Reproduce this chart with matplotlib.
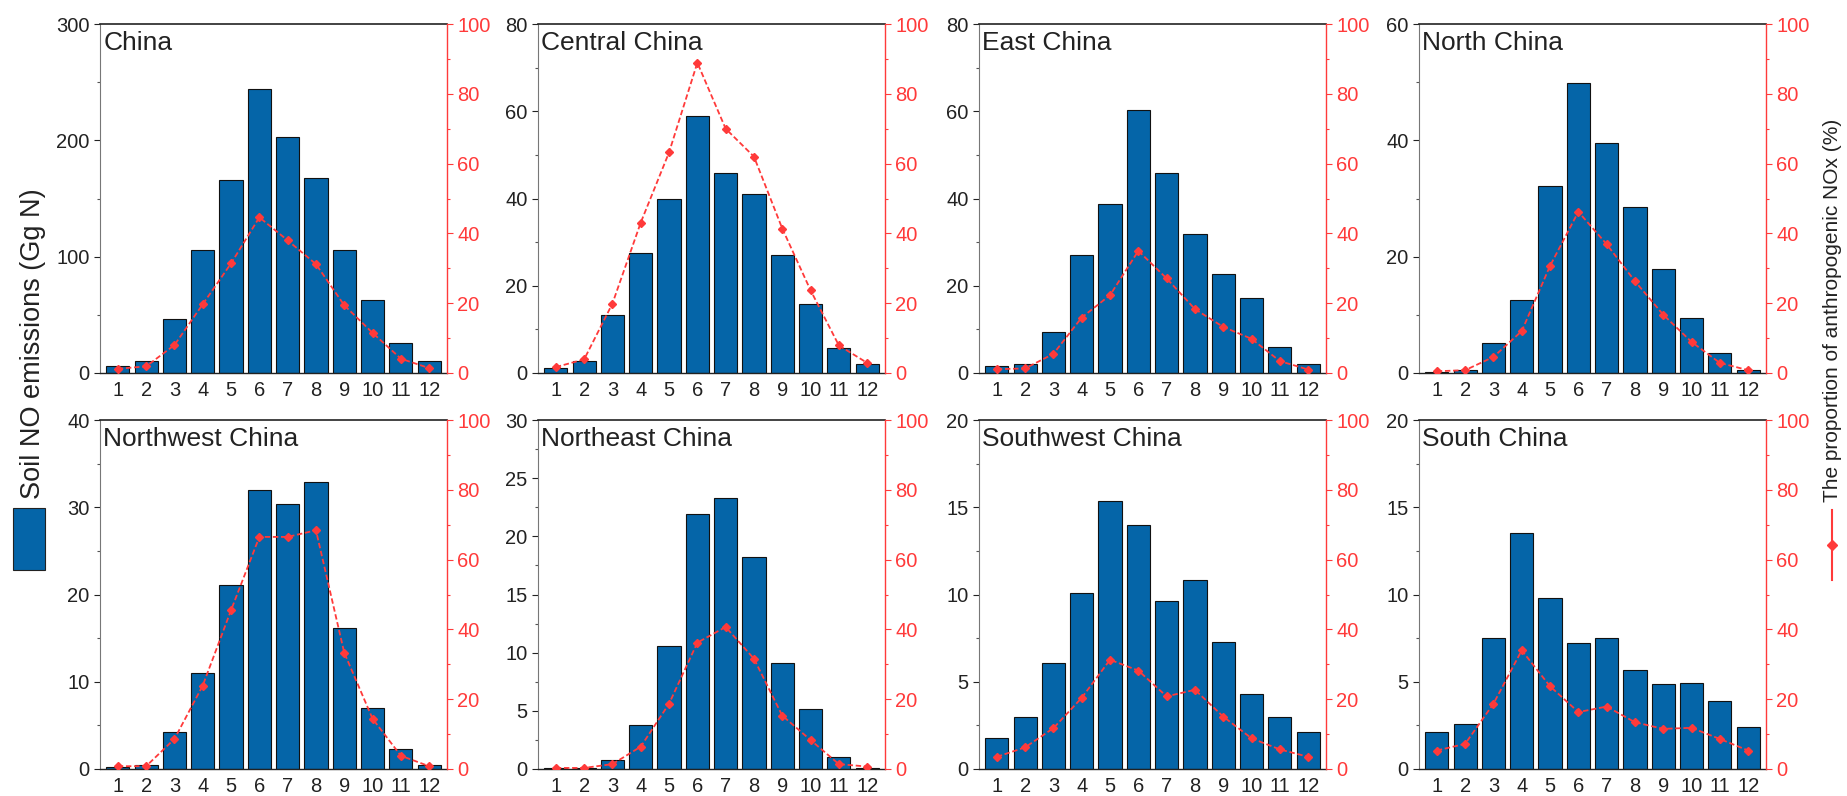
import matplotlib
matplotlib.use("Agg")
import matplotlib.pyplot as plt
from matplotlib.ticker import MultipleLocator
from matplotlib.patches import Rectangle
from matplotlib.lines import Line2D

plt.rcParams['font.family'] = ['Liberation Sans', 'DejaVu Sans']

months = [1, 2, 3, 4, 5, 6, 7, 8, 9, 10, 11, 12]
month_labels = [str(m) for m in months]

regions = ["China", "Central China", "East China", "North China",
           "Northwest China", "Northeast China", "Southwest China", "South China"]

# Soil NO emissions (Gg N)
soil_china = [5.7, 10, 46, 105.5, 166, 244, 202.5, 167.5, 105.5, 63, 26, 10]
soil_central = [1.1, 2.75, 13.2, 27.4, 39.8, 58.9, 45.9, 41.1, 27.0, 15.8, 5.7, 2.1]
soil_east = [1.5, 2.1, 9.4, 27.0, 38.7, 60.3, 45.9, 31.8, 22.6, 17.1, 6.0, 2.1]
soil_north = [0.1, 0.6, 5.2, 12.6, 32.1, 49.9, 39.5, 28.5, 17.9, 9.5, 3.5, 0.5]
soil_northwest = [0.2, 0.5, 4.2, 11.0, 21.1, 32.0, 30.4, 32.9, 16.2, 7.0, 2.3, 0.5]
soil_northeast = [0.05, 0.05, 0.8, 3.8, 10.6, 21.9, 23.3, 18.2, 9.1, 5.2, 1.0, 0.1]
soil_southwest = [1.8, 3.0, 6.1, 10.1, 15.35, 14.0, 9.6, 10.85, 7.3, 4.3, 3.0, 2.1]
soil_south = [2.1, 2.6, 7.5, 13.5, 9.8, 7.2, 7.5, 5.65, 4.85, 4.9, 3.9, 2.4]

# Proportion of anthropogenic NOx (%)
prop_china = [1.2, 1.9, 8.0, 19.7, 31.4, 44.6, 38.0, 31.2, 19.4, 11.5, 4.1, 1.4]
prop_central = [1.7, 3.9, 19.9, 43.1, 63.2, 88.9, 70.0, 62.0, 41.4, 23.7, 7.9, 2.9]
prop_east = [1.1, 1.3, 5.5, 15.9, 22.3, 35.0, 27.1, 18.3, 13.2, 9.8, 3.4, 1.0]
prop_north = [0.5, 0.8, 4.6, 12.0, 30.7, 46.2, 36.9, 26.3, 16.7, 8.9, 2.9, 0.8]
prop_northwest = [0.8, 0.8, 8.6, 23.9, 45.5, 66.5, 66.5, 68.4, 33.3, 14.4, 3.8, 0.8]
prop_northeast = [0.3, 0.3, 1.4, 6.4, 18.7, 36.2, 40.7, 31.6, 15.3, 8.3, 1.4, 0.7]
prop_southwest = [3.5, 6.2, 11.7, 20.4, 31.3, 28.2, 20.8, 22.7, 15.0, 8.8, 5.6, 3.5]
prop_south = [5.3, 7.2, 18.7, 34.0, 23.7, 16.3, 17.9, 13.4, 11.5, 11.8, 8.6, 5.3]

soil_all = [soil_china, soil_central, soil_east, soil_north,
            soil_northwest, soil_northeast, soil_southwest, soil_south]
prop_all = [prop_china, prop_central, prop_east, prop_north,
            prop_northwest, prop_northeast, prop_southwest, prop_south]

left_max = [300, 80, 80, 60, 40, 30, 20, 20]
left_major = [100, 20, 20, 20, 10, 5, 5, 5]

W, H = 1847, 796
fig = plt.figure(figsize=(W / 100, H / 100), dpi=100)

BAR_C = '#0565A8'
RED = '#FF3A3A'
TXT = '#222222'

col_left = [100, 538, 979, 1419]
col_w = 347
row_top = [24, 420]
row_h = 349

for i in range(8):
    r, c = divmod(i, 4)
    l = col_left[c]
    t = row_top[r]
    ax = fig.add_axes([l / W, 1 - (t + row_h) / H, col_w / W, row_h / H])
    ax.bar(months, soil_all[i], width=0.82, color=BAR_C, edgecolor='#111111',
           linewidth=0.8, zorder=2)
    ax.set_xlim(0.37, 12.63)
    ax.set_ylim(0, left_max[i])
    ax.yaxis.set_major_locator(MultipleLocator(left_major[i]))
    ax.yaxis.set_minor_locator(MultipleLocator(left_major[i] / 2))
    ax.set_xticks(months)
    ax.set_xticklabels(month_labels)
    ax.tick_params(axis='x', length=0, labelsize=14.5, pad=6, colors=TXT)
    ax.tick_params(axis='y', which='major', length=4, width=0.8, labelsize=14.5,
                   colors=TXT, direction='out')
    ax.tick_params(axis='y', which='minor', length=2.5, width=0.8, colors='#555555',
                   direction='out')
    ax.spines['left'].set_color('#777777')
    ax.spines['left'].set_linewidth(0.8)
    ax.spines['bottom'].set_color(TXT)
    ax.spines['bottom'].set_linewidth(1.0)
    ax.spines['top'].set_color(TXT)
    ax.spines['top'].set_linewidth(1.2)
    ax.spines['right'].set_visible(False)
    ax.text(0.01, 0.98, regions[i], transform=ax.transAxes, ha='left', va='top',
            fontsize=19, color=TXT, zorder=5)

    ax2 = ax.twinx()
    ax2.plot(months, prop_all[i], color=RED, linestyle=(0, (3, 1.5)), linewidth=1.3,
             marker='D', markersize=4.5, markerfacecolor=RED, markeredgecolor=RED,
             zorder=4)
    ax2.set_ylim(0, 100)
    ax2.yaxis.set_major_locator(MultipleLocator(20))
    ax2.yaxis.set_minor_locator(MultipleLocator(10))
    ax2.tick_params(axis='y', which='major', length=4, width=0.8, labelsize=14.5,
                    colors=RED, direction='out')
    ax2.tick_params(axis='y', which='minor', length=2.5, width=0.8, colors=RED,
                    direction='out')
    ax2.spines['right'].set_color(RED)
    ax2.spines['right'].set_linewidth(1.0)
    for s in ['left', 'top', 'bottom']:
        ax2.spines[s].set_visible(False)

# Left axis label with bar legend symbol
fig.text(33 / W, 1 - 344 / H, 'Soil NO emissions (Gg N)', rotation=90,
         ha='center', va='center', fontsize=19.5, color=TXT)
fig.patches.append(Rectangle((13 / W, 1 - 570 / H), 32 / W, 62 / H,
                             transform=fig.transFigure, facecolor=BAR_C,
                             edgecolor='#222222', linewidth=0.8))

# Right axis label with line legend symbol
fig.text(1832 / W, 1 - 310 / H, 'The proportion of anthropogenic NOx (%)', rotation=90,
         ha='center', va='center', fontsize=15, color=TXT)
fig.lines.append(Line2D([1832 / W, 1832 / W], [1 - 580 / H, 1 - 510 / H],
                        transform=fig.transFigure, color=RED, linewidth=1.5))
fig.lines.append(Line2D([1832 / W], [1 - 545 / H], transform=fig.transFigure,
                        color=RED, marker='D', markersize=5, linestyle='none'))

fig.savefig('out.png', dpi=100)
